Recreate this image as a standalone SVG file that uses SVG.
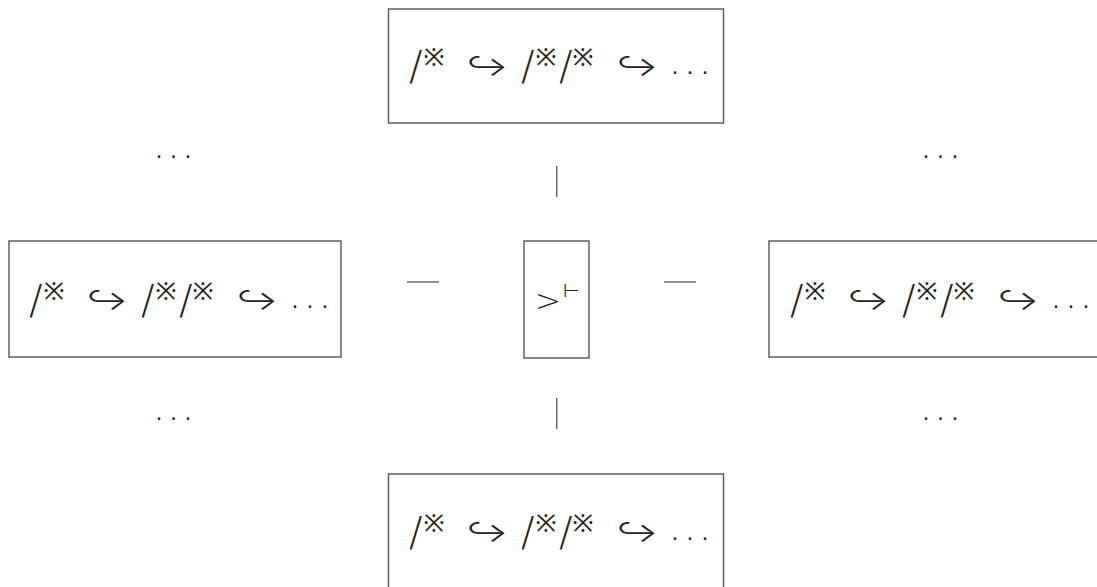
<svg xmlns="http://www.w3.org/2000/svg" width="1097" height="587" viewBox="0 0 1097 587">
<style>
  .box { fill: #ffffff; stroke: #555555; stroke-width: 1.4; }
  .edge { stroke: #555555; stroke-width: 1.3; fill: none; }
  .sl { font-family: "DejaVu Sans", sans-serif; font-size: 40px; font-weight: 200; fill: #222; }
  .rm { font-family: "Noto Sans", "DejaVu Sans", sans-serif; font-size: 25px; font-weight: 400; fill: #222; }
  .ar { font-family: Inter, "DejaVu Sans", sans-serif; font-size: 32px; font-weight: 300; fill: #222; }
  .dots { font-family: "DejaVu Sans", sans-serif; font-size: 22px; letter-spacing: 8px; fill: #222; }
  .sym { font-family: "DejaVu Sans", sans-serif; font-weight: 200; fill: #222; }
</style>
<defs>
  <g id="chain">
    <text>
      <tspan class="sl" x="409" y="80">/</tspan>
      <tspan class="rm" x="436" y="66" text-anchor="middle">※</tspan>
      <tspan class="sl" x="521" y="80">/</tspan>
      <tspan class="rm" x="548" y="66" text-anchor="middle">※</tspan>
      <tspan class="sl" x="559" y="80">/</tspan>
      <tspan class="rm" x="585" y="66" text-anchor="middle">※</tspan>
      <tspan class="dots" x="671.5" y="73.5">...</tspan>
    </text>
    <text class="ar" transform="translate(466,76) scale(1.15,0.85)">↪</text>
    <text class="ar" transform="translate(616,76) scale(1.15,0.85)">↪</text>
  </g>
</defs>
<g id="connectors">
  <line class="edge" x1="556.7" y1="166" x2="556.7" y2="197"/>
  <line class="edge" x1="556.7" y1="398" x2="556.7" y2="429"/>
  <line class="edge" x1="407" y1="282" x2="439" y2="282"/>
  <line class="edge" x1="664" y1="282" x2="696" y2="282"/>
</g>
<g id="node-top">
  <rect class="box" x="388.5" y="9" width="335" height="114"/>
  <use href="#chain"/>
</g>
<g id="node-left">
  <rect class="box" x="9" y="241" width="332" height="116"/>
  <use href="#chain" transform="translate(-380,234)"/>
</g>
<g id="node-right">
  <rect class="box" x="769" y="241" width="340" height="116"/>
  <use href="#chain" transform="translate(381,234)"/>
</g>
<g id="node-bottom">
  <rect class="box" x="388.5" y="474" width="335" height="130"/>
  <use href="#chain" transform="translate(0,466)"/>
</g>
<g id="node-center">
  <rect class="box" x="524" y="241" width="65" height="117"/>
  <text class="sym">
    <tspan x="535" y="311" font-size="31">&gt;</tspan>
    <tspan x="563" y="297" font-size="19">⊢</tspan>
  </text>
</g>
<g id="dots-tl"><text class="dots" x="155.5" y="157.5" style="letter-spacing:7.5px">...</text></g>
<g id="dots-tr"><text class="dots" x="922.5" y="157.5" style="letter-spacing:7.5px">...</text></g>
<g id="dots-bl"><text class="dots" x="155.5" y="419.5" style="letter-spacing:7.5px">...</text></g>
<g id="dots-br"><text class="dots" x="922.5" y="419.5" style="letter-spacing:7.5px">...</text></g>
</svg>
